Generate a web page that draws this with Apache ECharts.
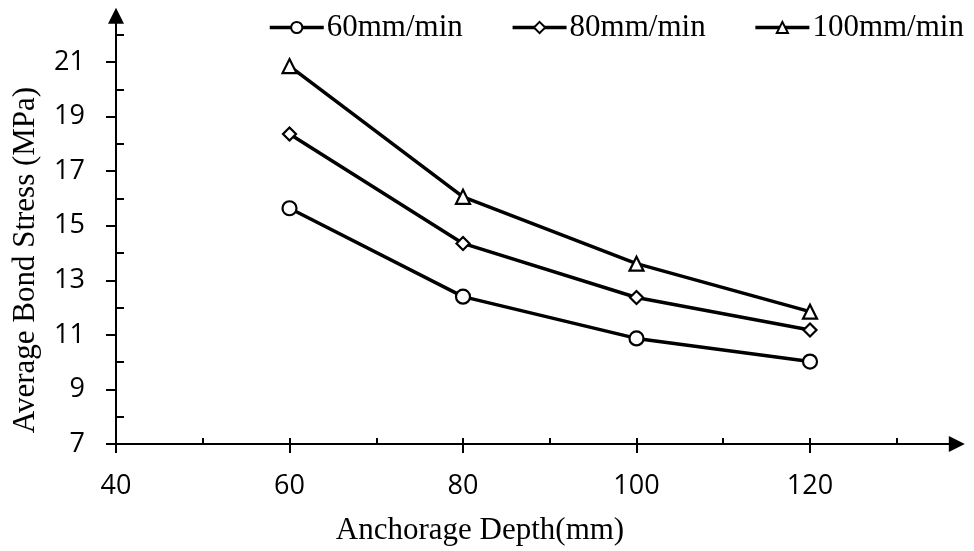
<!DOCTYPE html>
<html>
<head>
<meta charset="utf-8">
<style>
  html, body { margin: 0; padding: 0; background: #fff; }
  #chart { width: 974px; height: 551px; }
</style>
<script src="https://cdn.jsdelivr.net/npm/echarts@6/dist/echarts.min.js"></script>
</head>
<body>
<div id="chart"></div>
<script>
// Anchorage depth (mm) for each test
const depths = [60, 80, 100, 120];

// Average bond stress (MPa) per loading rate
const rate60 = [15.64, 12.40, 10.87, 10.02];
const rate80 = [18.36, 14.35, 12.37, 11.18];
const rate100 = [20.85, 16.06, 13.61, 11.85];

const seriesNames = ['60mm/min', '80mm/min', '100mm/min'];

// Axis ticks and labels
const xLabelTicks = [40, 60, 80, 100, 120];
const xInnerTicks = [50, 60, 70, 80, 90, 100, 110, 120, 130];
const yLabelTicks = [7, 9, 11, 13, 15, 17, 19, 21];
const yInnerTicks = [8, 10, 12, 14, 16, 18, 20, 22];

const serif = '"Liberation Serif", "Times New Roman", serif';
const sans = '"Open Sans", "Liberation Sans", sans-serif';

const chart = echarts.init(document.getElementById('chart'), null, { renderer: 'canvas' });

function pairs(ys) {
  return depths.map((d, i) => [d, ys[i]]);
}

function makeSeries(name, ys, symbol, size) {
  return {
    name: name,
    type: 'line',
    xAxisIndex: 0,
    yAxisIndex: 0,
    data: pairs(ys),
    symbol: symbol,
    symbolSize: size,
    showAllSymbol: true,
    lineStyle: { color: '#000', width: 3.5 },
    itemStyle: { color: '#fff', borderColor: '#000', borderWidth: 2.2 },
    emphasis: { disabled: true },
    animation: false,
    z: 5
  };
}

const axisLineStyle = { color: '#000', width: 2 };

const option = {
  backgroundColor: '#fff',
  animation: false,
  grid: { left: 116, right: 25.2, top: 23.8, bottom: 107, containLabel: false },
  legend: {
    top: 12,
    left: 268,
    padding: 0,
    itemWidth: 54,
    itemHeight: 14,
    itemGap: 48,
    data: seriesNames,
    lineStyle: { width: 3.5 },
    itemStyle: { borderWidth: 2 },
    textStyle: { fontFamily: serif, fontSize: 31, color: '#000', padding: [0, 0, 0, -2] },
    selectedMode: false
  },
  xAxis: [
    {
      type: 'value', position: 'bottom', min: 40, max: 136,
      axisLine: { show: true, onZero: false, lineStyle: axisLineStyle,
        symbol: ['none', 'triangle'], symbolSize: [16, 16], symbolOffset: [0, 8] },
      axisTick: { show: true, inside: true, length: 6, lineStyle: axisLineStyle, customValues: xInnerTicks },
      axisLabel: { show: false },
      splitLine: { show: false }
    },
    {
      type: 'value', position: 'bottom', min: 40, max: 136,
      axisLine: { show: false, onZero: false },
      axisTick: { show: true, inside: false, length: 9, lineStyle: axisLineStyle, customValues: xLabelTicks },
      axisLabel: { show: true, margin: 29, fontFamily: sans, fontSize: 27, color: '#000', customValues: xLabelTicks },
      splitLine: { show: false }
    }
  ],
  yAxis: [
    {
      type: 'value', position: 'left', min: 7, max: 22.4,
      axisLine: { show: true, onZero: false, lineStyle: axisLineStyle,
        symbol: ['none', 'triangle'], symbolSize: [16, 16], symbolOffset: [0, 8] },
      axisTick: { show: true, inside: true, length: 8, lineStyle: axisLineStyle, customValues: yInnerTicks },
      axisLabel: { show: false },
      splitLine: { show: false }
    },
    {
      type: 'value', position: 'left', min: 7, max: 22.4,
      axisLine: { show: false, onZero: false },
      axisTick: { show: true, inside: false, length: 10, lineStyle: axisLineStyle, customValues: yLabelTicks },
      axisLabel: { show: true, margin: 31, fontFamily: sans, fontSize: 27, color: '#000', customValues: yLabelTicks },
      splitLine: { show: false }
    }
  ],
  graphic: [
    {
      type: 'text', x: 480, y: 531,
      style: { text: 'Anchorage Depth(mm)', font: '31px ' + serif, fill: '#000',
        textAlign: 'center', textVerticalAlign: 'middle' }
    },
    {
      type: 'text', x: 26, y: 260, rotation: Math.PI / 2,
      style: { text: 'Average Bond Stress (MPa)', font: '31px ' + serif, fill: '#000',
        textAlign: 'center', textVerticalAlign: 'middle' }
    }
  ],
  series: [
    makeSeries(seriesNames[0], rate60, 'circle', 14),
    makeSeries(seriesNames[1], rate80, 'diamond', 13),
    makeSeries(seriesNames[2], rate100, 'triangle', 14)
  ]
};

chart.setOption(option);
</script>
</body>
</html>
